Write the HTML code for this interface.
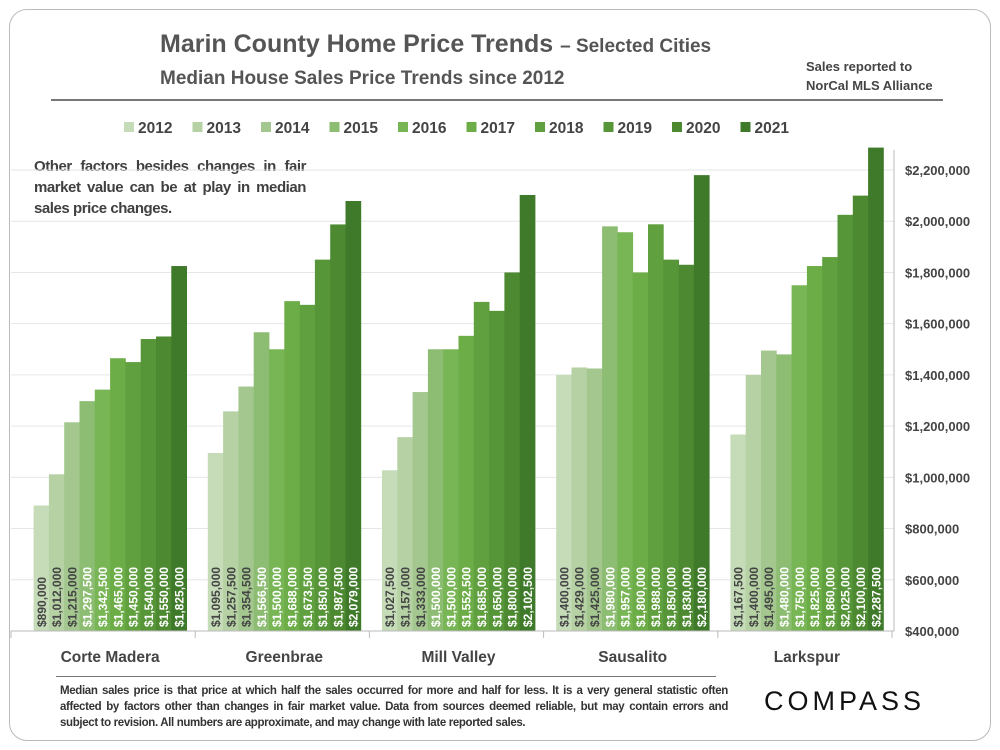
<!DOCTYPE html>
<html><head><meta charset="utf-8"><style>
body{margin:0;background:#fff;font-family:"Liberation Sans",sans-serif;}
#frame{position:absolute;left:9px;top:9px;width:980px;height:730px;border:1.5px solid #bbb;border-radius:18px;}
.t{position:absolute;color:#555;font-weight:bold;}
</style></head><body>
<div id="frame"></div>
<div class="t" style="left:160px;top:30px;font-size:25px;">Marin County Home Price Trends <span style="font-size:19px">– Selected Cities</span></div>
<div class="t" style="left:160px;top:68px;font-size:19px;">Median House Sales Price Trends since 2012</div>
<div class="t" style="left:806px;top:57px;font-size:13px;line-height:19px;color:#444">Sales reported to<br>NorCal MLS Alliance</div>
<div style="position:absolute;left:51px;top:99px;width:892px;height:2px;background:#777"></div>
<div class="t" style="left:34px;top:156px;width:272px;font-size:15px;letter-spacing:-0.45px;line-height:21px;color:#404040;text-align:justify">Other factors besides changes in fair market value can be at play in median sales price changes.</div>
<div style="position:absolute;left:56px;top:676px;width:660px;height:1px;background:#777"></div>
<div class="t" style="left:60px;top:683px;width:668px;font-size:11.5px;letter-spacing:-0.35px;line-height:16px;color:#333;text-align:justify">Median sales price is that price at which half the sales occurred for more and half for less. It is a very general statistic often affected by factors other than changes in fair market value. Data from sources deemed reliable, but may contain errors and subject to revision. All numbers are approximate, and may change with late reported sales.</div>
<div style="position:absolute;left:764px;top:686px;font-size:27px;letter-spacing:4px;color:#111;font-family:'Liberation Sans',sans-serif">COMPASS</div>
<svg id="chart" width="1000" height="750" style="position:absolute;left:0;top:0"></svg>
<script>
const categories=["Corte Madera","Greenbrae","Mill Valley","Sausalito","Larkspur"];
const years=["2012","2013","2014","2015","2016","2017","2018","2019","2020","2021"];
const values=[
[890000,1012000,1215000,1297500,1342500,1465000,1450000,1540000,1550000,1825000],
[1095000,1257500,1354500,1566500,1500000,1688000,1673500,1850000,1987500,2079000],
[1027500,1157000,1333000,1500000,1500000,1552500,1685000,1650000,1800000,2102500],
[1400000,1429000,1425000,1980000,1957000,1800000,1988000,1850000,1830000,2180000],
[1167500,1400000,1495000,1480000,1750000,1825000,1860000,2025000,2100000,2287500]];
const yTicks=[400000,600000,800000,1000000,1200000,1400000,1600000,1800000,2000000,2200000];
const colors=["#c6dcb9","#b6d2a5","#a3c78f","#8dbd72","#78b555","#6cad48","#60a03f","#569538","#4c8931","#3f7a2a"];
const svg=document.getElementById('chart');const NS="http://www.w3.org/2000/svg";
function mk(t,a){const e=document.createElementNS(NS,t);for(const k in a)e.setAttribute(k,a[k]);svg.appendChild(e);return e;}
const x0=23,x1=894,yb=631,yt=170,vmin=400000,vmax=2200000;
const y=v=>yb-(v-vmin)/(vmax-vmin)*(yb-yt);
const gw=(x1-x0)/categories.length,bw=15.3;
yTicks.forEach(v=>{const l=mk('line',{x1:x0-12,x2:x1,y1:y(v),y2:y(v),stroke:'#e6e6e6'});

const t=mk('text',{x:905,y:y(v)+5,'font-size':13,'font-weight':'bold',fill:'#444'});t.textContent='$'+v.toLocaleString('en-US');
});
const ax=mk('line',{x1:x1,x2:x1,y1:150,y2:yb,stroke:'#bbb'});
categories.forEach((c,i)=>{const cx=x0+gw*(i+0.5),s=cx-bw*5;
values[i].forEach((v,j)=>{const r=mk('rect',{x:s+j*bw,y:y(v),width:bw+0.4,height:yb-y(v),fill:colors[j]});

const tx=s+j*bw+bw/2+4.5,ty=yb-4;
const t=mk('text',{x:tx,y:ty,transform:`rotate(-90 ${tx} ${ty})`,'font-size':12,'font-weight':'bold',fill:j<3?'#444':'#fff'});
t.textContent='$'+v.toLocaleString('en-US');});
const t=mk('text',{x:cx,y:662,'text-anchor':'middle','font-size':15.5,'font-weight':'bold',fill:'#444'});t.textContent=c;
});
const base=mk('line',{x1:x0-12,x2:x1,y1:yb,y2:yb,stroke:'#bbb'});
for(let i=0;i<=categories.length;i++){const xx=i==0?x0-12:x0+gw*i-2;const l=mk('line',{x1:xx,x2:xx,y1:yb,y2:yb+7,stroke:'#bbb'});
}
years.forEach((yr,j)=>{const lx=124+j*68.5;
const r=mk('rect',{x:lx,y:122,width:10,height:10,fill:colors[j]});
const t=mk('text',{x:lx+14,y:133,'font-size':15.5,'font-weight':'bold',fill:'#444'});t.textContent=yr;
});
</script>
</body></html>
